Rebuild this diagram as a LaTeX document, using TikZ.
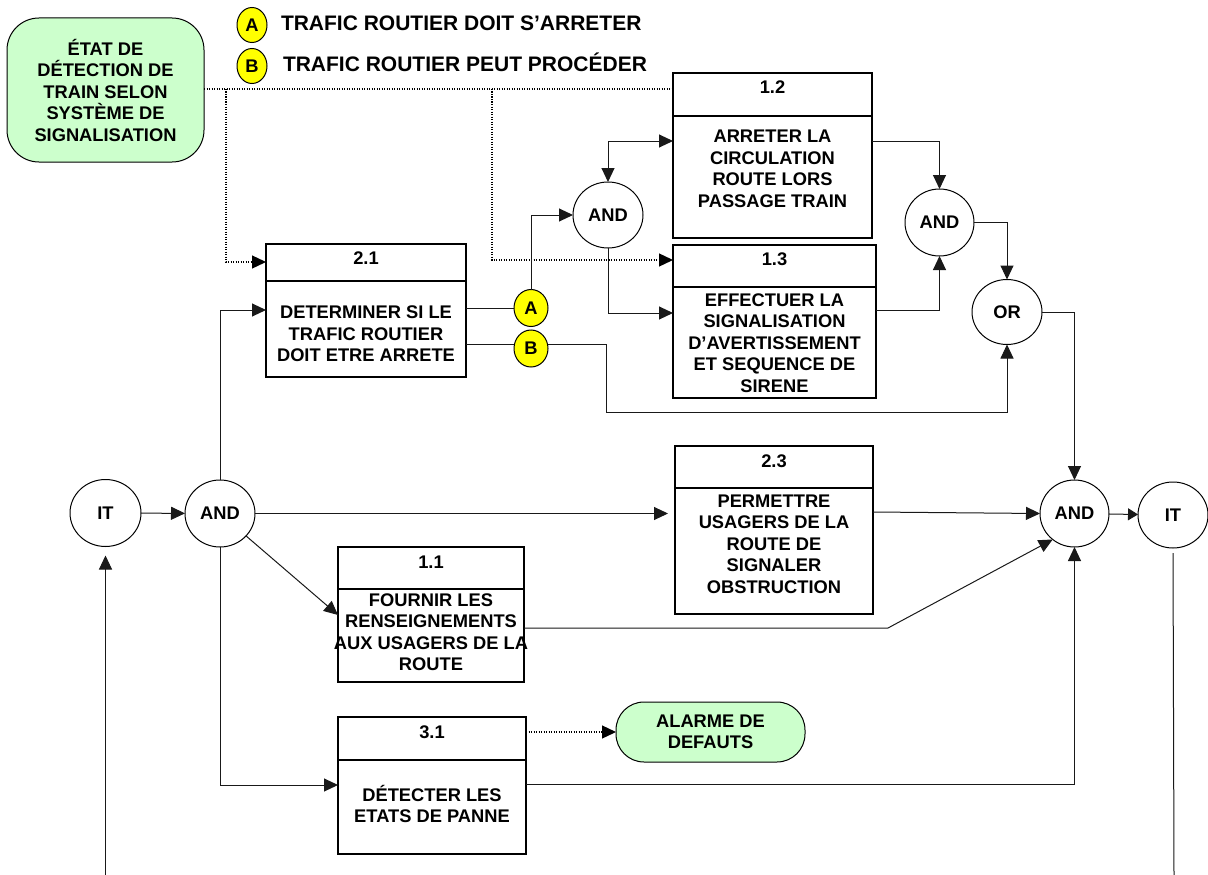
\documentclass[tikz,border=0pt]{standalone}
\usepackage{fontspec}
\setmainfont{Liberation Sans}
\usetikzlibrary{shapes.geometric,arrows.meta}
\definecolor{paleGreen}{HTML}{CCFFCC}
\definecolor{signalYellow}{HTML}{FFFF00}
\begin{document}
\begin{tikzpicture}[x=1pt,y=-1pt,
  every node/.style={font=\fontsize{18.3}{21.5}\selectfont\bfseries, inner sep=0pt, outer sep=0pt, align=center},
  frame/.style={draw, rectangle, line width=1.2pt},
  gate/.style={draw, ellipse, line width=1pt, minimum width=70pt, minimum height=67pt},
  tag/.style={draw, ellipse, fill=signalYellow, line width=1pt, minimum width=34pt, minimum height=37pt},
  store/.style={draw, fill=paleGreen, line width=1pt},
  legendtext/.style={anchor=west, font=\fontsize{21}{24}\selectfont\bfseries},
  flow/.style={line width=1pt, draw=black!90, -{Triangle[length=14pt,width=13pt]}},
  link/.style={line width=1pt, draw=black!90},
  dataflow/.style={line width=1.3pt, dash pattern=on 1.2pt off 1.3pt},
]
\useasboundingbox (0,0) rectangle (1208,875);

% external data sources / sinks
\node[store, rounded corners=32pt, minimum width=197pt, minimum height=144pt] (train) at (105.5,90)
  {ÉTAT DE\\DÉTECTION DE\\TRAIN SELON\\SYSTÈME DE\\SIGNALISATION};
\node[store, rounded corners=28pt, minimum width=189pt, minimum height=60pt] (alarm) at (710.5,732)
  {ALARME DE\\DEFAUTS};

% legend
\node[tag, minimum width=30pt, minimum height=35pt] (legA) at (252,25) {A};
\node[tag, minimum width=30pt, minimum height=35pt] (legB) at (252,66) {B};
\node[legendtext] (legAtxt) at (281,23.5) {TRAFIC ROUTIER DOIT S’ARRETER};
\node[legendtext] (legBtxt) at (283,62.5) {TRAFIC ROUTIER PEUT PROCÉDER};

% function 1.2
\node[frame, minimum width=199pt, minimum height=43pt] (b12t) at (772.5,94.5) {};
\node (b12n) at (772.5,87) {1.2};
\node[frame, minimum width=199pt, minimum height=122pt] (b12) at (772.5,177) {};
\node (b12x) at (772.5,169) {ARRETER LA\\CIRCULATION\\ROUTE LORS\\PASSAGE TRAIN};

% function 1.3
\node[frame, minimum width=203pt, minimum height=42pt] (b13t) at (774.5,266) {};
\node (b13n) at (774.5,259) {1.3};
\node[frame, minimum width=203pt, minimum height=111pt] (b13) at (774.5,342.5) {};
\node (b13x) at (774.5,343) {EFFECTUER LA\\SIGNALISATION\\D’AVERTISSEMENT\\ET SEQUENCE DE\\SIRENE};

% function 2.1
\node[frame, minimum width=200pt, minimum height=37pt] (b21t) at (366,262.5) {};
\node (b21n) at (366,258) {2.1};
\node[frame, minimum width=200pt, minimum height=96pt] (b21) at (366,329) {};
\node (b21x) at (366,334) {DETERMINER SI LE\\TRAFIC ROUTIER\\DOIT ETRE ARRETE};

% function 2.3
\node[frame, minimum width=198pt, minimum height=42pt] (b23t) at (774,467) {};
\node (b23n) at (774,461) {2.3};
\node[frame, minimum width=198pt, minimum height=126pt] (b23) at (774,551) {};
\node (b23x) at (774,544) {PERMETTRE\\USAGERS DE LA\\ROUTE DE\\SIGNALER\\OBSTRUCTION};

% function 1.1
\node[frame, minimum width=186pt, minimum height=42pt] (b11t) at (431,568) {};
\node (b11n) at (431,562) {1.1};
\node[frame, minimum width=186pt, minimum height=93pt] (b11) at (431,635.5) {};
\node (b11x) at (431,632) {FOURNIR LES\\RENSEIGNEMENTS\\AUX USAGERS DE LA\\ROUTE};

% function 3.1
\node[frame, minimum width=188pt, minimum height=43pt] (b31t) at (432,738.5) {};
\node (b31n) at (432,732) {3.1};
\node[frame, minimum width=188pt, minimum height=94pt] (b31) at (432,807) {};
\node (b31x) at (432,804) {DÉTECTER LES\\ETATS DE PANNE};

% decision tags
\node[tag] (tagA) at (531,308) {A};
\node[tag] (tagB) at (531,348.5) {B};

% junctions
\node[gate, minimum width=71pt] (it1) at (105.5,513) {IT};
\node[gate] (and0) at (220,513.5) {AND};
\node[gate, minimum height=66pt] (and1) at (608,215) {AND};
\node[gate, minimum width=69pt] (and2) at (939.5,222.5) {AND};
\node[gate, minimum height=65pt] (or1) at (1007,312) {OR};
\node[gate, minimum width=69pt] (and3) at (1074.5,513.5) {AND};
\node[gate, minimum height=66pt] (it2) at (1173,515) {IT};

\coordinate (loopL) at (105.5,875);
\coordinate (loopR) at (1174,875);
\coordinate (bendB) at (606,412);
\coordinate (bend11) at (888,628);

% dotted data flows
\draw[dataflow] (train.east |- 0,89) -- (b12t.west |- 0,89);
\draw[dataflow, -{Triangle[length=14pt,width=13pt]}] (226,89) |- (b21t.west |- 0,262);
\draw[dataflow, -{Triangle[length=14pt,width=13pt]}] (492,89) |- (b13t.west |- 0,260);
\draw[dataflow, -{Triangle[length=14pt,width=13pt]}] (b31t.east |- alarm.west) -- (alarm.west);

% control flows
\draw[flow, shorten >=9pt] (loopL) -- (it1.south);
\draw[flow] (it1) -- (and0);
\draw[flow] (and0.north) |- (b21.west |- 0,310);
\draw[link] (b21.east |- tagA.west) -- (tagA.west);
\draw[link] (b21.east |- 0,344) -- (tagB.west |- 0,344);
\draw[flow] (tagA.north) |- (and1.west);
\draw[flow] (tagB.east |- 0,344) -| (bendB) -| (or1.south);
\draw[line width=1pt, draw=black!90, {Triangle[length=14pt,width=13pt]}-{Triangle[length=14pt,width=13pt]}]
  (and1.north) |- (b12.west |- 0,141);
\draw[flow] (and1.south) |- (b13.west |- 0,313);
\draw[flow] (b12.east |- 0,141) -| (and2.north);
\draw[flow] (b13.east |- 0,310) -| (and2.south);
\draw[flow] (and2.east) -| (or1.north);
\draw[flow] (or1.east) -| (and3.north);
\draw[flow, shorten >=7pt] (and0.east) -- (b23.west |- and0.east);
\draw[flow] (b23.east |- 0,512) -- (and3.west);
\draw[flow] (and0) -- (b11.west |- 0,615);
\draw[flow] (b11.east |- 0,628) -- (bend11) -- (and3.-130);
\draw[flow] (and0.south) |- (b31.west |- 0,785);
\draw[flow] (b31.east |- 0,784) -| (and3.south);
\draw[flow, -{Triangle[length=10pt,width=12pt]}] (and3) -- (it2);
\draw[link, shorten <=5pt] (it2.south) -- (loopR);

\end{tikzpicture}
\end{document}
